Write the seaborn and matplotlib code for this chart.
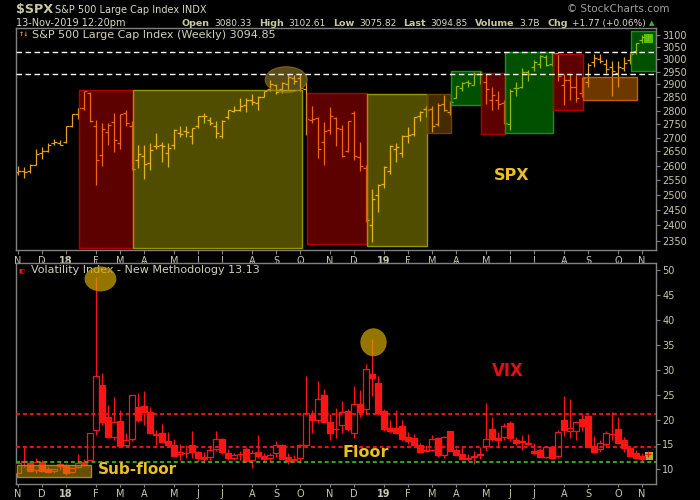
import numpy as np
import pandas as pd
import matplotlib
matplotlib.use('Agg')
import matplotlib.pyplot as plt
import seaborn as sns
from matplotlib.colors import to_rgba
from matplotlib.patches import Rectangle, Ellipse
from matplotlib.ticker import FixedLocator, FixedFormatter, NullLocator


weeks = pd.date_range('2017-11-06', periods=106, freq='W-MON')

spx_open = [2578, 2583, 2583, 2603, 2645, 2653, 2681, 2682, 2684, 2743,
            2786, 2810, 2867, 2741, 2636, 2722, 2757, 2681, 2790, 2741,
            2619, 2634, 2611, 2670, 2675, 2643, 2675, 2718, 2725, 2706,
            2741, 2780, 2765, 2742, 2704, 2776, 2798, 2804, 2821, 2840,
            2827, 2853, 2884, 2897, 2881, 2903, 2926, 2927, 2882, 2763,
            2773, 2683, 2726, 2773, 2731, 2650, 2790, 2630, 2591, 2401,
            2498, 2535, 2580, 2660, 2644, 2706, 2713, 2780, 2805, 2805,
            2748, 2823, 2796, 2848, 2888, 2909, 2898, 2940, 2908, 2841,
            2841, 2830, 2751, 2886, 2889, 2951, 2971, 2980, 3008, 2981,
            3024, 2898, 2919, 2891, 2866, 2910, 2988, 3000, 2983, 2968,
            2945, 2966, 2996, 3035, 3078, 3080]
spx_high = [2598, 2594, 2605, 2658, 2665, 2680, 2695, 2692, 2743, 2787,
            2810, 2873, 2870, 2763, 2754, 2754, 2789, 2786, 2801, 2761,
            2675, 2672, 2680, 2718, 2684, 2682, 2733, 2742, 2742, 2736,
            2780, 2791, 2774, 2760, 2764, 2804, 2816, 2848, 2848, 2863,
            2855, 2876, 2916, 2902, 2908, 2941, 2939, 2940, 2908, 2816,
            2776, 2756, 2815, 2775, 2746, 2760, 2800, 2685, 2601, 2520,
            2538, 2597, 2675, 2680, 2708, 2738, 2776, 2798, 2817, 2816,
            2830, 2860, 2836, 2894, 2910, 2917, 2949, 2954, 2940, 2892,
            2875, 2841, 2884, 2910, 2964, 2958, 2996, 3017, 3018, 3028,
            3027, 2943, 2943, 2939, 2930, 2985, 3021, 3022, 3002, 2993,
            2993, 3008, 3027, 3067, 3098, 3103]
spx_low = [2566, 2557, 2576, 2601, 2625, 2648, 2673, 2672, 2682, 2737,
           2768, 2803, 2759, 2533, 2597, 2675, 2647, 2658, 2741, 2585,
           2593, 2553, 2586, 2660, 2612, 2594, 2658, 2701, 2701, 2676,
           2735, 2753, 2745, 2698, 2698, 2770, 2795, 2799, 2796, 2821,
           2802, 2853, 2876, 2864, 2868, 2884, 2903, 2874, 2710, 2755,
           2628, 2603, 2713, 2671, 2631, 2649, 2621, 2583, 2409, 2346,
           2443, 2524, 2570, 2612, 2631, 2681, 2705, 2761, 2775, 2722,
           2743, 2800, 2785, 2848, 2874, 2891, 2898, 2901, 2825, 2801,
           2805, 2750, 2728, 2855, 2887, 2912, 2952, 2966, 2973, 2973,
           2914, 2822, 2840, 2834, 2853, 2891, 2969, 2985, 2946, 2855,
           2892, 2952, 2981, 3023, 3066, 3076]
spx_close = [2582, 2579, 2602, 2642, 2652, 2675, 2683, 2674, 2743, 2786,
             2810, 2873, 2762, 2620, 2732, 2747, 2691, 2786, 2752, 2588,
             2640, 2604, 2656, 2670, 2670, 2663, 2728, 2713, 2721, 2735,
             2779, 2780, 2755, 2718, 2760, 2801, 2802, 2819, 2840, 2833,
             2850, 2874, 2902, 2872, 2905, 2930, 2914, 2886, 2767, 2768,
             2659, 2723, 2781, 2736, 2633, 2760, 2633, 2600, 2417, 2486,
             2532, 2596, 2671, 2665, 2707, 2708, 2776, 2793, 2804, 2743,
             2822, 2801, 2834, 2893, 2907, 2905, 2940, 2946, 2881, 2860,
             2826, 2752, 2873, 2887, 2950, 2942, 2990, 3014, 2977, 3026,
             2932, 2919, 2889, 2847, 2926, 2979, 3007, 2992, 2962, 2952,
             2970, 2986, 3023, 3067, 3093, 3095]

vix_open = [9.3, 11.6, 11.2, 9.9, 11.5, 10.0, 9.6, 10.6, 10.9, 9.4,
            10.5, 11.5, 11.9, 18.0, 27.0, 20.6, 16.4, 19.8, 14.9, 16.0,
            22.5, 22.8, 21.5, 17.0, 17.2, 15.6, 14.8, 13.0, 13.2, 14.9,
            13.4, 12.4, 12.5, 14.0, 16.0, 13.3, 12.3, 13.0, 14.1, 11.9,
            13.5, 12.6, 12.2, 13.2, 14.9, 12.4, 11.9, 12.2, 14.8, 21.0,
            19.9, 25.0, 19.6, 18.1, 19.0, 21.7, 17.3, 23.1, 22.1, 29.1,
            27.3, 21.7, 18.4, 18.3, 18.8, 16.5, 16.3, 14.9, 13.8, 13.8,
            16.3, 12.9, 17.7, 13.8, 13.0, 12.2, 12.5, 13.1, 14.6, 18.1,
            16.3, 16.5, 19.3, 15.9, 15.6, 15.3, 13.7, 13.9, 12.5, 14.5,
            12.6, 19.9, 17.8, 17.7, 20.1, 20.7, 14.6, 14.0, 15.1, 17.1,
            18.2, 15.9, 14.3, 13.3, 12.6, 13.0]
vix_high = [11.3, 14.5, 11.4, 12.2, 11.8, 10.5, 10.0, 11.7, 11.0, 10.3,
            13.0, 12.0, 17.4, 48.7, 29.3, 23.0, 24.6, 22.0, 17.2, 25.0,
            25.4, 25.7, 22.5, 17.9, 19.2, 17.6, 16.0, 15.0, 14.8, 17.7,
            13.6, 13.5, 14.6, 17.8, 16.2, 14.0, 13.2, 13.7, 14.4, 13.8,
            16.9, 13.2, 13.2, 15.6, 15.0, 13.2, 12.9, 15.0, 28.8, 22.0,
            27.8, 26.1, 21.1, 22.4, 23.8, 22.1, 26.7, 25.9, 31.2, 36.2,
            28.8, 22.1, 20.0, 21.9, 19.9, 17.6, 17.0, 15.2, 14.9, 16.9,
            16.5, 16.6, 17.8, 14.2, 14.4, 13.0, 13.6, 14.4, 23.4, 20.6,
            17.5, 19.4, 19.8, 16.5, 16.9, 17.0, 15.2, 14.3, 14.7, 14.7,
            18.0, 24.8, 24.1, 19.7, 21.4, 21.0, 16.7, 15.9, 17.7, 21.5,
            20.5, 16.5, 14.6, 13.9, 13.3, 13.7]
vix_low = [9.2, 10.5, 9.4, 9.3, 9.5, 9.3, 9.2, 9.9, 8.9, 9.3,
           10.2, 10.6, 11.8, 16.8, 18.9, 16.3, 15.8, 14.6, 14.6, 15.7,
           19.6, 18.9, 17.3, 14.8, 15.2, 14.5, 12.6, 11.9, 12.2, 12.2,
           11.6, 11.3, 11.9, 13.6, 13.1, 11.9, 11.9, 11.9, 11.4, 10.2,
           12.3, 11.5, 11.6, 12.4, 12.0, 11.1, 11.5, 11.3, 14.7, 17.4,
           19.3, 19.3, 15.9, 16.3, 17.4, 17.8, 16.2, 20.6, 21.1, 24.7,
           21.0, 17.8, 17.4, 17.1, 15.6, 15.0, 14.6, 13.5, 13.5, 13.7,
           12.4, 12.3, 13.7, 12.8, 11.8, 11.6, 11.0, 12.0, 13.7, 15.6,
           14.2, 15.9, 15.6, 14.9, 13.8, 14.8, 12.9, 12.4, 12.2, 12.1,
           12.2, 16.6, 16.2, 15.8, 17.8, 14.4, 13.3, 13.5, 14.7, 15.8,
           15.4, 13.5, 12.7, 12.1, 11.7, 12.4]
vix_close = [11.3, 11.4, 9.7, 11.4, 9.6, 9.4, 10.0, 11.0, 9.2, 10.2,
             11.3, 11.1, 17.3, 28.8, 19.5, 16.5, 19.6, 14.6, 15.8, 24.9,
             20.0, 21.5, 17.4, 16.9, 15.4, 14.8, 12.7, 13.4, 13.2, 13.5,
             12.2, 12.0, 13.8, 16.1, 13.4, 12.2, 12.9, 13.0, 11.6, 13.2,
             12.6, 12.0, 12.9, 14.9, 12.1, 11.7, 12.1, 14.8, 21.3, 19.9,
             24.2, 19.5, 17.4, 18.1, 21.5, 18.1, 23.2, 21.6, 30.1, 28.3,
             21.4, 18.2, 17.8, 17.4, 16.1, 15.7, 14.9, 13.5, 13.6, 16.1,
             12.9, 16.5, 13.7, 12.8, 12.0, 12.1, 12.7, 12.9, 16.0, 16.0,
             15.9, 18.7, 16.3, 15.3, 15.4, 15.1, 13.3, 12.4, 14.5, 12.2,
             17.6, 18.0, 18.3, 19.6, 18.8, 14.5, 13.4, 15.3, 17.2, 17.0,
             15.3, 14.3, 12.7, 12.3, 12.1, 13.1]

spx_ticks = list(range(2350, 3101, 50))
vix_ticks = list(range(10, 51, 5))

# SPX support / resistance and VIX floor levels
spx_levels = [3028, 2941]
vix_levels = [21.2, 14.5]
vix_subfloor = 11.5

# shaded zones on the SPX panel: start week, end week, low, high, kind
zones = [(10.2, 19.2, 2328, 2879, 'red'),
         (19.2, 47.3, 2326, 2879, 'olive'),
         (48.2, 58.1, 2340, 2866, 'red'),
         (58.1, 68.2, 2334, 2862, 'olive'),
         (68.2, 72.2, 2717, 2862, 'brown'),
         (72.2, 77.2, 2822, 2955, 'green'),
         (77.2, 81.1, 2713, 2944, 'red'),
         (81.2, 89.2, 2716, 3028, 'green'),
         (89.2, 94.2, 2801, 3022, 'red'),
         (94.2, 103.2, 2841, 2928, 'orange'),
         (102.2, 106.3, 2952, 3115, 'green')]
zone_style = {'red': ('#ff0000', 0.37, '#b00000'),
              'olive': ('#e0d800', 0.36, '#9a9400'),
              'green': ('#00e000', 0.36, '#00a000'),
              'brown': ('#c88000', 0.35, '#6a4400'),
              'orange': ('#d87000', 0.50, '#c06000')}

x = np.arange(len(weeks))
vo, vh, vl, vc = map(np.array, (vix_open, vix_high, vix_low, vix_close))

# month ticks: first week of each month, year number for January
first = [0] + [i for i in range(1, len(weeks)) if weeks[i].month != weeks[i - 1].month]
month_labels = [weeks[i].strftime('%y') if weeks[i].month == 1 else weeks[i].strftime('%b')[0]
                for i in first]

sns.set_theme(style='dark', rc={'figure.facecolor': 'black', 'axes.facecolor': 'black',
                                'axes.grid': False, 'axes.edgecolor': '#808080',
                                'text.color': '#c8c8a8'})
plt.rcParams['font.family'] = ['DejaVu Sans']

fig = plt.figure(figsize=(7, 5), dpi=100)
W, H = 700, 500
ax1 = fig.add_axes([16 / W, 1 - 250 / H, 640 / W, 222 / H])
ax2 = fig.add_axes([16 / W, 1 - 484 / H, 640 / W, 221 / H])

bar_col = '#e8a020'
red = '#ff1414'
lab_col = '#c8c8a8'

# ---- SPX OHLC bars
ax1.vlines(x, spx_low, spx_high, color=bar_col, lw=0.9, zorder=2)
ax1.hlines(spx_open, x - 0.42, x, color=bar_col, lw=0.9, zorder=2)
ax1.hlines(spx_close, x, x + 0.42, color=bar_col, lw=0.9, zorder=2)
ax1.add_patch(Rectangle((104.4, 3066), 1.4, 38, facecolor='#70b800', edgecolor='none', zorder=1))

for x0, x1, lo, hi, kind in zones:
    fc, a, ec = zone_style[kind]
    ax1.add_patch(Rectangle((x0, lo), x1 - x0, hi - lo, facecolor=to_rgba(fc, a),
                            edgecolor=ec, lw=1.0, zorder=3))
ax1.add_patch(Ellipse((44.7, 2919), 7, 102, facecolor=to_rgba('#c8a838', 0.45),
                      edgecolor=to_rgba('#8a7020', 0.8), lw=0.8, zorder=4))
for lev in spx_levels:
    ax1.axhline(lev, color='white', lw=1.0, ls=(0, (4, 2.5)), zorder=5)

ax1.set_yscale('log')
ax1.set_ylim(2321, 3129)
ax1.yaxis.set_major_locator(FixedLocator(spx_ticks))
ax1.yaxis.set_major_formatter(FixedFormatter([str(t) for t in spx_ticks]))
ax1.yaxis.set_minor_locator(NullLocator())
ax1.text(82.2, 2565, 'SPX', ha='center', va='center', fontsize=11.5,
         fontweight='bold', color='#e8c020', zorder=6)
ax1.text(0.1, 3101, '↑↓', fontsize=4.5, color=bar_col, va='center', fontweight='bold')
ax1.text(2.3, 3101, 'S&P 500 Large Cap Index (Weekly) 3094.85', fontsize=8,
         color='#d0d0b8', va='center')

# ---- VIX candles
ax2.vlines(x, vl, vh, color=red, lw=0.9, zorder=2)
up = vc >= vo
ax2.bar(x[up], (vc - vo)[up], bottom=vo[up], width=0.87, facecolor='black',
        edgecolor=red, lw=0.9, zorder=3)
ax2.bar(x[~up], (vo - vc)[~up], bottom=vc[~up], width=0.87, facecolor=red,
        edgecolor=red, lw=0.9, zorder=3)
ax2.add_patch(Rectangle((104.55, 11.9), 1.25, 1.6, facecolor='#a8b030', edgecolor='none', zorder=1))
ax2.add_patch(Rectangle((-0.17, 8.4), 12.37, 2.5, facecolor=to_rgba('#c8a000', 0.5),
                        edgecolor='#a08a20', lw=1.0, zorder=4))
for lev in vix_levels:
    ax2.axhline(lev, color=red, lw=1.3, ls=(0, (2.2, 1.6)), zorder=5)
ax2.axhline(vix_subfloor, color='#40b020', lw=1.3, ls=(0, (2.2, 1.6)), zorder=5)
ax2.add_patch(Ellipse((13.75, 48.3), 5.1, 4.8, facecolor=to_rgba('#d4a800', 0.7),
                      edgecolor=to_rgba('#a08000', 0.9), lw=0.8, zorder=6))
ax2.add_patch(Ellipse((59.25, 35.55), 4.2, 5.4, facecolor=to_rgba('#d4a800', 0.7),
                      edgecolor=to_rgba('#a08000', 0.9), lw=0.8, zorder=6))
ax2.set_ylim(7.04, 51.5)
ax2.set_yticks(vix_ticks)
ax2.set_yticklabels([str(t) for t in vix_ticks])
ax2.text(81.6, 29.85, 'VIX', ha='center', va='center', fontsize=12,
         fontweight='bold', color='#e01010', zorder=7)
ax2.text(57.9, 13.4, 'Floor', ha='center', va='center', fontsize=11.5,
         fontweight='bold', color='#e8c020', zorder=7)
ax2.text(13.3, 10.0, 'Sub-floor', ha='left', va='center', fontsize=11,
         fontweight='bold', color='#e8c020', zorder=7)
ax2.text(0.1, 50.0, '▮▯', fontsize=4.5, color=red, va='center')
ax2.text(2.2, 50.0, 'Volatility Index - New Methodology 13.13', fontsize=8,
         color='#d0d0b8', va='center')

for ax in (ax1, ax2):
    ax.set_xlim(-0.33, 106.33)
    ax.set_xticks(first)
    ax.set_xticklabels(month_labels)
    for t in ax.get_xticklabels():
        if t.get_text().isdigit():
            t.set_fontweight('bold')
    ax.yaxis.tick_right()
    ax.tick_params(axis='both', which='major', direction='out', length=3, width=0.8,
                   color='#808080', labelcolor=lab_col, labelsize=7, pad=1.5,
                   bottom=True, right=True, left=False)
    for s in ax.spines.values():
        s.set_color('#808080')
        s.set_linewidth(1.0)
ax2.tick_params(axis='x', top=True, length=2)


def ftext(px, py, s, **kw):
    return fig.text(px / W, 1 - py / H, s, va='baseline', **kw)


ftext(16, 13.5, '$SPX', fontsize=9.2, fontweight='bold', color='#c8c8a0')
ftext(55, 13, 'S&P 500 Large Cap Index', fontsize=7, color='#d8d8c8')
ftext(182, 13, 'INDX', fontsize=7, color='#d8d8c8')
ftext(16, 26, '13-Nov-2019 12:20pm', fontsize=7, color='#d8d8c8')
ftext(567, 12.5, '© StockCharts.com', fontsize=7.5, color='#a0a0a0')

# quote line, laid out left to right between x=182 and x=646
quote = [('Open', '3080.33'), ('High', '3102.61'), ('Low', '3075.82'),
         ('Last', '3094.85'), ('Volume', '3.7B'), ('Chg', '+1.77 (+0.06%)')]
renderer = fig.canvas.get_renderer()
pieces = []
for lab, val in quote:
    t1 = ftext(0, 26, lab, fontsize=6.8, fontweight='bold', color='#c8c8a0')
    t2 = ftext(0, 26, val, fontsize=6.5, color='#d8d8c8')
    pieces.append((t1, t2))
widths = [(a.get_window_extent(renderer).width, b.get_window_extent(renderer).width)
          for a, b in pieces]
total = sum(a + b for a, b in widths)
gap = (646 - 182 - total) / (len(quote) + 1.6 * (len(quote) - 1))
pos = 182
for (t1, t2), (w1, w2) in zip(pieces, widths):
    t1.set_x(pos / W)
    pos += w1 + gap
    t2.set_x(pos / W)
    pos += w2 + 1.6 * gap
ftext(649, 25, '▲', fontsize=5, color='#30c030')

fig.savefig('out.png', dpi=100, facecolor='black')
